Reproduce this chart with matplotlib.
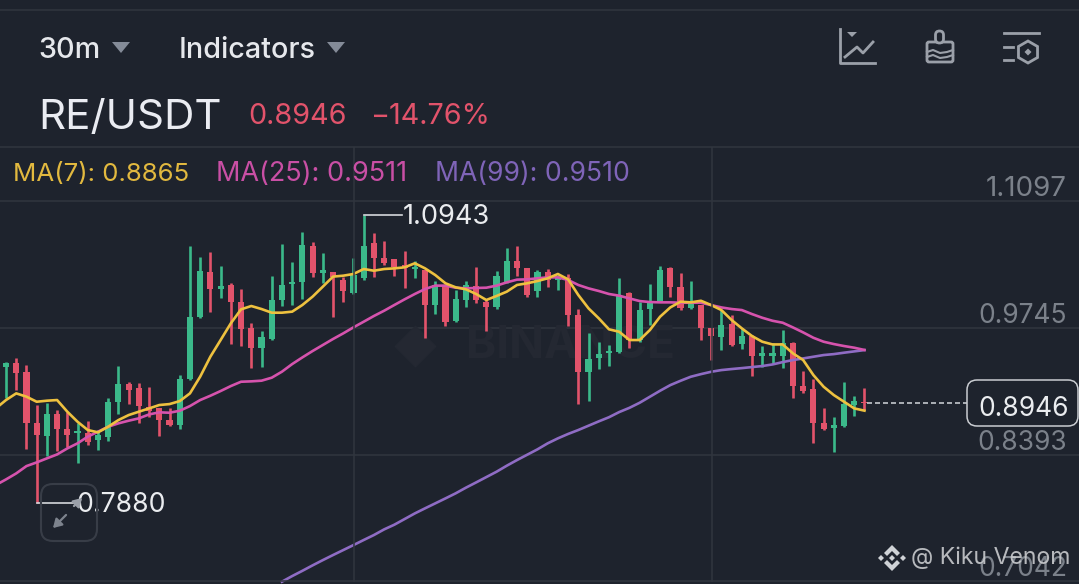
import numpy as np
import matplotlib
matplotlib.use("Agg")
import matplotlib.pyplot as plt
from matplotlib.patches import FancyBboxPatch, Polygon, RegularPolygon

plt.rcParams["font.family"] = ["Inter", "DejaVu Sans"]

# candles
opens = [.9326, .9376, .9280, .8737, .8595, .8825, .8666, .8623, .8623, .8552, .8588, .8960, .9148, .9102, .8907, .8889, .8765,
         .8712, .9198, .9858, 1.0345, 1.0160, 1.0203, 1.0025, .9741, .9528, .9624, 1.0043, 1.0210, 1.0238, 1.0618, 1.0334, 1.0345,
         1.0256, 1.0121, 1.0274, 1.0647, 1.0487, 1.0476, 1.0416, 1.0370, 1.0363, .9990, 1.0203, .9819, 1.0043, 1.0192, 1.0025, .9965,
         1.0238, 1.0462, 1.0380, 1.0142, 1.0345, 1.0256, 1.0274, .9883, .9280, .9422, .9475, .9492, 1.0114, .9617, .9943, 1.0025,
         1.0380, 1.0185, .9954, .9989, .9741, .9645, .9787, .9570, .9659, .9446, .9446, .9446, .9588, .9127, .9091, .8736, .8676,
         .8701, .8924, .8960]
closes = [.9376, .9269, .8737, .8605, .8825, .8666, .8605, .8651, .8534, .8605, .8960, .9148, .9085, .8914, .8864, .8765, .8712,
          .9198, .9866, 1.0352, 1.0160, 1.0192, 1.0025, .9731, .9528, .9645, 1.0043, 1.0203, 1.0238, 1.0629, 1.0334, 1.0363, 1.0292,
          1.0139, 1.0309, 1.0618, 1.0487, 1.0434, 1.0398, 1.0380, 1.0398, .9990, 1.0203, .9812, 1.0050, 1.0203, 1.0043, .9965, 1.0299,
          1.0462, 1.0380, 1.0096, 1.0345, 1.0256, 1.0292, .9883, .9280, .9411, .9468, .9503, 1.0096, .9617, .9936, 1.0007, 1.0362,
          1.0185, .9954, 1.0025, .9741, .9659, .9776, .9563, .9659, .9446, .9482, .9482, .9581, .9127, .9077, .8736, .8665, .8711,
          .8935, .8970, .8946]
highs = [.9386, .9422, .9351, .8925, .8942, .8871, .8854, .8730, .8754, .8659, .8996, .9340, .9173, .9155, .9113, .8889, .8889,
         .9244, 1.0618, 1.0497, 1.0551, 1.0409, 1.0221, 1.0157, .9802, .9716, 1.0299, 1.0639, 1.0451, 1.0771, 1.0664, 1.0540, 1.0345,
         1.0292, 1.0487, 1.0943, 1.0760, 1.0675, 1.0480, 1.0565, 1.0462, 1.0363, 1.0249, 1.0203, 1.0150, 1.0249, 1.0398, 1.0043, 1.0355,
         1.0593, 1.0618, 1.0380, 1.0363, 1.0373, 1.0309, 1.0320, .9944, .9695, .9599, .9564, 1.0273, 1.0131, 1.0025, 1.0213, 1.0408,
         1.0398, 1.0327, 1.0245, .9989, .9741, .9936, .9883, .9748, .9670, .9553, .9581, .9723, .9599, .9290, .9198, .8889, .8793,
         .9173, .9020, .9109]
lows = [.8996, .9085, .8453, .7880, .8382, .8438, .8474, .8304, .8499, .8446, .8545, .8829, .8935, .8730, .8801, .8595, .8705,
        .8669, .9191, .9848, .9919, 1.0061, .9574, .9553, .9315, .9333, .9617, .9979, .9990, 1.0054, 1.0284, 1.0221, .9866,
        1.0018, 1.0107, 1.0256, 1.0292, 1.0416, 1.0299, 1.0167, 1.0274, .9635, .9890, .9766, .9812, .9965, 1.0007, .9713, .9951,
        1.0221, 1.0299, 1.0079, 1.0071, 1.0185, 1.0150, .9766, .8932, .8967, .9308, .9340, .9482, .9528, .9599, .9776, 1.0018,
        1.0078, .9936, .9943, .9617, .9404, .9510, .9553, .9521, .9233, .9325, .9375, .9315, .9002, .9049, .8516, .8658, .8420,
        .8694, .8807, .8871]

# moving averages (first value of ma7/ma25 sits one candle left of the first candle)
ma7 = [.8889, .8978, .9049, .9014, .8960, .8971, .8978, .8854, .8747, .8659, .8634, .8694, .8765, .8818, .8854, .8889, .8925, .8935,
       .8967, .9049, .9227, .9440, .9617, .9795, .9944, .9979, .9947, .9908, .9908, .9919, .9990, 1.0079, 1.0185, 1.0292, 1.0302,
       1.0320, 1.0373, 1.0355, 1.0373, 1.0380, 1.0391, 1.0434, 1.0380, 1.0309, 1.0221, 1.0178, 1.0157, 1.0107, 1.0043, 1.0086,
       1.0132, 1.0203, 1.0221, 1.0245, 1.0274, 1.0320, 1.0263, 1.0096, .9954, .9848, .9731, .9705, .9617, .9617, .9723, .9865,
       .9964, 1.0025, 1.0018, 1.0035, .9989, .9936, .9830, .9741, .9659, .9599, .9570, .9570, .9475, .9404, .9244, .9120, .9031,
       .8960, .8889, .8865]
ma25 = [.8073, .8133, .8197, .8275, .8314, .8357, .8399, .8463, .8517, .8588, .8641, .8694, .8730, .8758, .8783, .8825, .8847, .8843,
        .8864, .8914, .8978, .9024, .9074, .9127, .9173, .9177, .9184, .9216, .9280, .9361, .9432, .9500, .9564, .9628, .9688,
        .9752, .9812, .9873, .9929, .9990, 1.0050, 1.0107, 1.0160, 1.0196, 1.0196, 1.0174, 1.0167, 1.0171, 1.0174, 1.0196,
        1.0231, 1.0260, 1.0263, 1.0274, 1.0284, 1.0284, 1.0256, 1.0203, 1.0167, 1.0139, 1.0107, 1.0089, 1.0060, 1.0032, 1.0021,
        1.0018, 1.0018, 1.0014, 1.0014, 1.0014, .9989, .9964, .9947, .9936, .9893, .9854, .9822, .9801, .9751, .9698, .9641, .9599,
        .9574, .9553, .9535, .9511]
# ma99 only shows from candle 27 on, before that it is below the chart
ma99 = [.7044, .7104, .7160, .7218, .7274, .7328, .7381, .7434, .7488, .7541, .7601, .7651, .7711, .7771, .7825, .7878, .7931, .7985,
        .8045, .8101, .8158, .8215, .8279, .8339, .8396, .8453, .8517, .8570, .8617, .8659, .8705, .8751, .8795, .8850, .8895, .8949,
        .9013, .9077, .9137, .9183, .9226, .9254, .9279, .9297, .9308, .9318, .9329, .9340, .9357, .9382, .9404, .9421, .9439, .9457,
        .9467, .9482, .9496, .9510]

axis_prices = [1.1097, 0.9745, 0.8393, 0.7042]
axis_labels = ["1.1097", "0.9745", "0.8393", "0.7042"]
last_price = 0.8946
high_price = 1.0943
low_price = 0.7880

BG = "#1e232d"
GRID = "#31363f"
GREEN = "#3bb98a"
RED = "#e2536b"
YELLOW = "#eec13f"
PINK = "#d653ad"
PURPLE = "#8f6cc4"
AXIS_TXT = "#7b818a"
ICON = "#9ba0a9"

W, H = 1079, 584
fig = plt.figure(figsize=(W / 100, H / 100), dpi=100, facecolor=BG)

# price axes covers the whole figure, scale fitted to the grid lines
ax = fig.add_axes([0, 0, 1, 1], facecolor=BG)
step = 10.22
ax.set_xlim(-6 / step, (W - 6) / step)
ax.set_ylim(0.9745 - (H - 328) * 0.0010646, 0.9745 + 328 * 0.0010646)
ax.axis("off")

# overlay in pixels for the app chrome
ui = fig.add_axes([0, 0, 1, 1])
ui.set_xlim(0, W)
ui.set_ylim(H, 0)
ui.axis("off")
ui.patch.set_alpha(0)

# grid
for p in axis_prices[:3]:
    ax.axhline(p, color=GRID, lw=1.1, zorder=1)
for px in [354, 712]:
    ui.plot([px, px], [148, 581], color=GRID, lw=1.1, zorder=0)
for py in [10, 147, 581]:
    ui.plot([0, W], [py, py], color=GRID, lw=1.1, zorder=0)

# faint watermark behind the candles
ax.text(45.0, 0.9555, "BINANCE", color="#242832", fontsize=33, fontweight="bold", ha="left", va="center", zorder=1)
ax.scatter([40], [0.9555], marker="D", s=420, color="#242832", zorder=1)

# candles
x = np.arange(len(opens))
o = np.array(opens)
c = np.array(closes)
colors = [GREEN if c[i] >= o[i] else RED for i in x]
ax.vlines(x, lows, highs, colors=colors, lw=1.9, zorder=2)
ax.bar(x, np.abs(c - o), bottom=np.minimum(o, c), width=0.6, color=colors, zorder=3)

# MA lines
ax.plot(np.arange(27, 85), ma99, color=PURPLE, lw=1.9, zorder=4)
ax.plot(np.arange(-1, 85), ma25, color=PINK, lw=1.9, zorder=5)
ax.plot(np.arange(-1, 85), ma7, color=YELLOW, lw=1.9, zorder=6)

# high / low labels
ax.plot([35, 38.7], [high_price, high_price], color="#d5d8dc", lw=1.2, zorder=4)
ax.text(38.85, high_price - 0.0015, "1.0943", color="#eaecef", fontsize=19.6, va="center", ha="left", zorder=7)
ax.plot([3, 6.75], [low_price, low_price], color="#d5d8dc", lw=1.2, zorder=4)
ax.text(6.85, low_price - 0.0015, "0.7880", color="#eaecef", fontsize=19.1, va="center", ha="left", zorder=7)

# last price dashes
ax.plot([84.2, 94], [last_price, last_price], color="#c4c8cd", lw=1.2, ls=(0, (3, 1.8)), zorder=4)
ui.add_patch(FancyBboxPatch((967, 380), 111, 46, boxstyle="round,pad=0,rounding_size=10", fc=BG, ec="#c9ccd1", lw=1.1, zorder=7))
ui.text(1024, 408.5, "0.8946", color="#eaecef", fontsize=19, ha="center", va="center", zorder=8)

# axis labels
for label, yc, fs in zip(axis_labels, [189, 316, 443, 569], [20, 19, 19, 19]):
    ui.text(1067, yc, label, color=AXIS_TXT, fontsize=fs, ha="right", va="center", zorder=8)

# header
ui.text(38, 50, "30m", color="#e6e8ec", fontsize=20.7, fontweight="medium", va="center")
ui.text(179, 50, "Indicators", color="#e6e8ec", fontsize=20.7, fontweight="medium", va="center")
for tx in [112, 327]:
    ui.add_patch(Polygon([[tx, 42], [tx + 18, 42], [tx + 9, 53]], closed=True, fc="#848b98", ec="none"))
ui.text(38, 118, "RE/USDT", color="#eaecf2", fontsize=30.3, va="center")
ui.text(248, 117, "0.8946", color=RED, fontsize=20.7, va="center")
ui.text(370, 117, "\u221214.76%", color=RED, fontsize=20.7, va="center")

# MA legend
ui.text(13, 174, "MA(7): 0.8865", color="#e2b93f", fontsize=18.6, va="center")
ui.text(216, 174, "MA(25): 0.9511", color="#c94fa5", fontsize=19.5, va="center")
ui.text(435, 174, "MA(99): 0.9510", color="#7f64b8", fontsize=19.1, va="center")

# toolbar icons
lw_i = 2.0
ui.plot([840, 840, 875], [29, 63, 63], color=ICON, lw=lw_i)
ui.plot([845, 857, 863, 873], [57, 47, 53, 42], color=ICON, lw=lw_i)
ui.add_patch(Polygon([[847, 32], [857, 32], [852, 37]], closed=True, fc=ICON, ec="none"))

ui.add_patch(FancyBboxPatch((927, 42), 26, 20, boxstyle="round,pad=0,rounding_size=2", fc="none", ec=ICON, lw=lw_i))
ui.add_patch(FancyBboxPatch((935.5, 31), 8, 12, boxstyle="round,pad=0,rounding_size=4", fc=BG, ec=ICON, lw=lw_i))
ui.plot([927, 933, 940, 947, 953], [52, 50, 53, 52, 50], color=ICON, lw=1.5)
ui.plot([927, 933, 940, 947, 953], [57, 55, 58, 57, 55], color=ICON, lw=1.5)

ui.plot([1004, 1039], [33, 33], color=ICON, lw=lw_i)
ui.plot([1004, 1013], [47, 47], color=ICON, lw=lw_i)
ui.plot([1004, 1013], [60, 60], color=ICON, lw=lw_i)
ui.add_patch(RegularPolygon((1028, 52), 6, radius=11, fc="none", ec=ICON, lw=lw_i))
ui.add_patch(Polygon([[1028, 48.5], [1031.5, 52], [1028, 55.5], [1024.5, 52]], closed=True, fc=ICON, ec="none"))

# expand button
ui.add_patch(FancyBboxPatch((41, 484), 56, 57, boxstyle="round,pad=0,rounding_size=12", fc="none", ec="#383d47", lw=1.5, zorder=3))
ui.annotate("", xy=(51, 530), xytext=(68, 513), arrowprops=dict(arrowstyle="-|>,head_width=0.3,head_length=0.5", color="#7d838d", lw=1.6), zorder=3)
ui.annotate("", xy=(84, 496), xytext=(72, 508), arrowprops=dict(arrowstyle="-|>,head_width=0.3,head_length=0.5", color="#9ba0a9", lw=1.6), zorder=3)

# credit with logo
logo = "#cfd2d6"
lx, ly = 892, 558
ui.add_patch(Polygon([[lx - 8, ly - 5], [lx, ly - 13], [lx + 8, ly - 5], [lx + 5, ly - 2], [lx, ly - 7], [lx - 5, ly - 2]], closed=True, fc=logo, ec="none", zorder=9))
ui.add_patch(Polygon([[lx - 8, ly + 5], [lx, ly + 13], [lx + 8, ly + 5], [lx + 5, ly + 2], [lx, ly + 7], [lx - 5, ly + 2]], closed=True, fc=logo, ec="none", zorder=9))
for dx in [-11, 0, 11]:
    ui.add_patch(Polygon([[lx + dx - 3, ly], [lx + dx, ly - 3], [lx + dx + 3, ly], [lx + dx, ly + 3]], closed=True, fc=logo, ec="none", zorder=9))
ui.text(911, 558, "@ Kiku Venom", color="#c9cbce", fontsize=16.6, va="center", zorder=9, alpha=0.9)

fig.savefig("out.png", dpi=100, facecolor=BG)
